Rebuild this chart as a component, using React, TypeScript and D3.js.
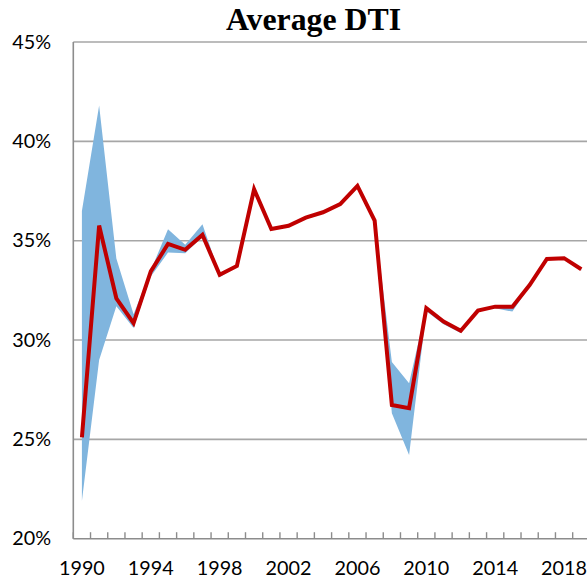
import React from "react";
import * as d3 from "d3";

const years: number[] = [
  1990, 1991, 1992, 1993, 1994, 1995, 1996, 1997, 1998, 1999,
  2000, 2001, 2002, 2003, 2004, 2005, 2006, 2007, 2008, 2009,
  2010, 2011, 2012, 2013, 2014, 2015, 2016, 2017, 2018, 2019,
];
const avgDti: number[] = [
  25.1, 35.76, 32.1, 30.85, 33.45, 34.84, 34.54, 35.29, 33.28, 33.73,
  37.59, 35.59, 35.75, 36.16, 36.43, 36.84, 37.76, 36.01, 26.73, 26.57,
  31.6, 30.93, 30.47, 31.48, 31.68, 31.68, 32.77, 34.08, 34.12, 33.56,
];
const bandUpper: number[] = [
  36.5, 41.8, 34.1, 31.3, 33.5, 35.58, 34.8, 35.83, 33.3, 33.75,
  37.6, 35.6, 35.75, 36.16, 36.43, 36.84, 37.76, 36.01, 28.9, 27.82,
  31.65, 31.0, 30.5, 31.5, 31.7, 31.7, 32.9, 34.1, 34.12, 33.56,
];
const bandLower: number[] = [
  21.9, 29.0, 31.7, 30.6, 33.2, 34.4, 34.37, 35.2, 33.16, 33.7,
  37.55, 35.55, 35.7, 36.1, 36.4, 36.8, 37.7, 35.95, 26.31, 24.21,
  31.45, 30.8, 30.35, 31.45, 31.6, 31.43, 32.7, 34.05, 34.1, 33.5,
];
const yTicks: number[] = [20, 25, 30, 35, 40, 45];
const xLabelYears: number[] = [1990, 1994, 1998, 2002, 2006, 2010, 2014, 2018];
const title = "Average DTI";

const W = 587;
const H = 587;
const left = 73.3;
const step = 17.22;
const right = left + step * years.length;
const top = 42;
const bottom = 538.7;

export default function App() {
  const x = d3.scaleBand<number>().domain(years).range([left, right]).padding(0);
  const y = d3.scaleLinear().domain([20, 45]).range([bottom, top]);
  const cx = (yr: number) => (x(yr) as number) + x.bandwidth() / 2;

  const area = d3
    .area<number>()
    .x((_, i) => cx(years[i]))
    .y0((_, i) => y(bandLower[i]))
    .y1((_, i) => y(bandUpper[i]));
  const line = d3
    .line<number>()
    .x((_, i) => cx(years[i]))
    .y((d) => y(d));

  const boundaries = d3.range(years.length + 1).map((i) => left + i * x.bandwidth());
  const labelFont = "Lato, 'Open Sans', sans-serif";

  return (
    <div style={{ position: "fixed", left: 0, top: 0, width: W, height: H, background: "#fff" }}>
      <svg width={W} height={H} style={{ display: "block" }}>
        <rect width={W} height={H} fill="#fff" />
        <text
          x={313.5}
          y={29.5}
          textAnchor="middle"
          fontFamily="'Liberation Serif', 'Times New Roman', serif"
          fontWeight="bold"
          fontSize={31.8}
          fill="#000"
        >
          {title}
        </text>
        {yTicks.map((t) => (
          <g key={t}>
            {t > 20 && (
              <line x1={left} x2={right} y1={y(t)} y2={y(t)} stroke="#a6a6a6" strokeWidth={1.6} />
            )}
            <text
              x={51}
              y={y(t) + 1.5}
              textAnchor="end"
              dominantBaseline="middle"
              fontFamily={labelFont}
              fontSize={19.8}
              fill="#000"
            >
              {t}%
            </text>
          </g>
        ))}
        <path d={area(avgDti) || ""} fill="#80b5de" stroke="none" />
        <path
          d={line(avgDti) || ""}
          fill="none"
          stroke="#c00000"
          strokeWidth={4}
          strokeLinejoin="miter"
          strokeMiterlimit={4}
        />
        <line x1={left} x2={left} y1={top} y2={bottom} stroke="#8c8c8c" strokeWidth={1.6} />
        <line x1={left} x2={right} y1={bottom} y2={bottom} stroke="#8c8c8c" strokeWidth={1.6} />
        {boundaries.map((bx, i) => (
          <line key={i} x1={bx} x2={bx} y1={bottom} y2={bottom - 6.5} stroke="#8c8c8c" strokeWidth={1.4} />
        ))}
        {xLabelYears.map((yr) => (
          <text
            key={yr}
            x={cx(yr)}
            y={570}
            textAnchor="middle"
            dominantBaseline="middle"
            fontFamily={labelFont}
            fontSize={19.8}
            fill="#000"
          >
            {yr}
          </text>
        ))}
      </svg>
    </div>
  );
}
